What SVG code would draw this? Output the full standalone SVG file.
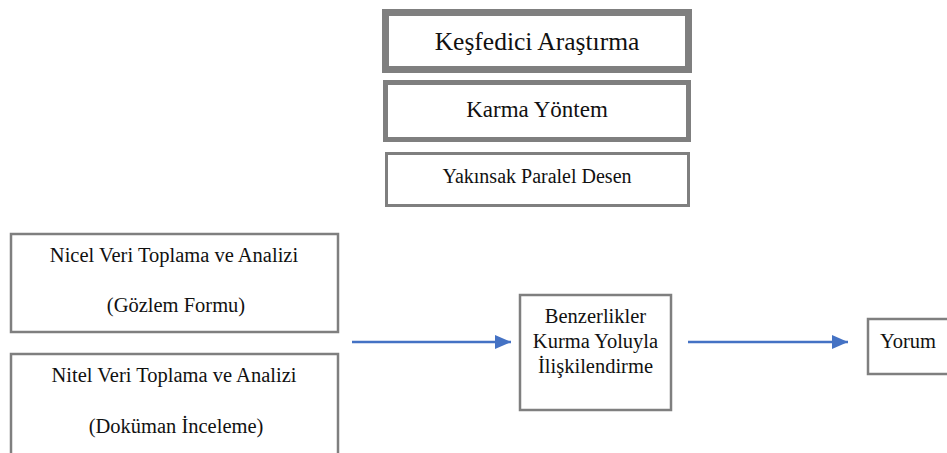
<svg xmlns="http://www.w3.org/2000/svg" width="947" height="453" viewBox="0 0 947 453">
<style>
.box{fill:#fff;stroke:#7f7f7f}
.t{font-family:"Liberation Serif","Times New Roman",serif;fill:#111;text-anchor:middle}
.s{font-size:20.5px}
.c{stroke:#4472c4;stroke-width:2.5;fill:none}
</style>
<defs>
<marker id="ah" markerUnits="userSpaceOnUse" markerWidth="16" markerHeight="14" refX="16" refY="7" orient="auto">
<path d="M0,0 L16,7 L0,14 Z" fill="#4472c4"/>
</marker>
</defs>
<rect width="947" height="453" fill="#fff"/>
<g id="kesfedici">
<rect class="box" x="385.5" y="12.5" width="303" height="57" stroke-width="7"/>
<text class="t" x="537" y="50" font-size="25.5">Keşfedici Araştırma</text>
</g>
<g id="karma">
<rect class="box" x="385.5" y="82.5" width="303" height="57" stroke-width="5"/>
<text class="t" x="537" y="117" font-size="23">Karma Yöntem</text>
</g>
<g id="yakinsak">
<rect class="box" x="386.5" y="153.5" width="302" height="52" stroke-width="3"/>
<text class="t" x="537" y="183" font-size="20">Yakınsak Paralel Desen</text>
</g>
<g id="nicel">
<rect class="box" x="11" y="234" width="327" height="98" stroke-width="2.5"/>
<text class="t s" x="174" y="262">Nicel Veri Toplama ve Analizi</text>
<text class="t s" x="176" y="312">(Gözlem Formu)</text>
</g>
<g id="nitel">
<rect class="box" x="11" y="354" width="327" height="110" stroke-width="2.5"/>
<text class="t s" x="174" y="382">Nitel Veri Toplama ve Analizi</text>
<text class="t s" x="176" y="433">(Doküman İnceleme)</text>
</g>
<g id="benzerlikler">
<rect class="box" x="520" y="295" width="151" height="115" stroke-width="2.5"/>
<text class="t s" x="595.5" y="323">Benzerlikler</text>
<text class="t s" x="595.5" y="348">Kurma Yoluyla</text>
<text class="t s" x="595.5" y="373">İlişkilendirme</text>
</g>
<g id="yorum">
<rect class="box" x="868" y="319" width="90" height="55" stroke-width="2.5"/>
<text class="t s" x="880" y="348" style="text-anchor:start">Yorum</text>
</g>
<g id="connectors">
<line class="c" x1="352" y1="342" x2="511" y2="342" marker-end="url(#ah)"/>
<line class="c" x1="688" y1="342" x2="848" y2="342" marker-end="url(#ah)"/>
</g>
</svg>
